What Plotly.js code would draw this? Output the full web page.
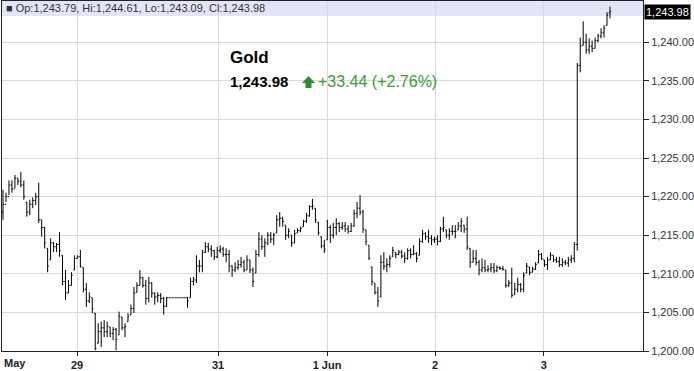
<!DOCTYPE html>
<html>
<head>
<meta charset="utf-8">
<script src="https://cdn.plot.ly/plotly-3.0.1.min.js"></script>
<style>html,body{margin:0;padding:0;background:#fff;}#chart{width:694px;height:371px;}</style>
</head>
<body>
<div id="chart"></div>
<script>
// ---- data ----
var openP = [1218.0,1219.0,1220.0,1221.5,1221.0,1222.4,1222.0,1221.5,1219.3,1218.0,1219.0,1219.5,1220.0,1217.0,1216.0,1213.3,1211.8,1214.0,1213.5,1213.8,
1212.4,1209.0,1207.5,1208.5,1210.5,1212.0,1212.2,1210.8,1208.0,1206.5,1206.9,1204.9,1201.0,1202.5,1203.0,1202.5,1203.1,1202.3,1202.8,1202.1,
1204.4,1203.0,1203.8,1204.7,1205.5,1207.6,1208.5,1209.5,1208.5,1206.8,1208.8,1207.5,1207.0,1207.2,1206.8,1205.8,1206.9,1206.9,1206.9,1206.9,
1206.9,1206.9,1206.9,1206.9,1209.0,1209.2,1211.0,1211.0,1212.8,1213.5,1213.2,1213.0,1212.2,1213.0,1213.2,1212.5,1212.5,1211.0,1210.5,1210.8,
1211.2,1211.5,1210.5,1211.8,1210.5,1210.1,1212.5,1214.5,1213.5,1214.0,1215.0,1214.5,1215.3,1217.0,1217.2,1216.3,1215.0,1215.0,1214.0,1215.3,
1215.6,1216.1,1216.8,1217.5,1218.7,1218.5,1216.7,1214.8,1213.6,1214.4,1216.0,1215.0,1216.0,1216.5,1216.0,1216.2,1215.8,1215.5,1216.2,1217.8,
1218.5,1218.0,1215.7,1213.7,1210.9,1208.8,1207.6,1207.0,1211.5,1211.0,1211.2,1212.2,1212.8,1212.5,1212.8,1212.3,1212.0,1213.0,1212.5,1212.6,
1212.4,1214.2,1215.2,1214.8,1214.6,1214.4,1214.5,1214.2,1215.8,1215.7,1215.0,1215.5,1215.5,1215.7,1216.2,1216.3,1215.8,1213.3,1211.5,1212.0,
1211.5,1210.5,1210.8,1210.5,1210.6,1210.8,1210.4,1210.8,1210.7,1210.5,1208.5,1208.8,1207.3,1208.0,1208.6,1208.0,1210.1,1210.9,1210.2,1210.6,
1211.4,1212.5,1211.8,1211.2,1211.8,1212.4,1211.8,1211.6,1211.2,1211.5,1211.4,1211.8,1212.0,1213.8,1237.0,1239.6,1240.0,1239.0,1239.5,1239.2,
1240.2,1240.8,1241.2,1242.2,1243.79];
var highP = [1220.9,1220.5,1222.1,1222.1,1222.8,1222.4,1223.2,1222.1,1219.3,1219.6,1219.9,1220.5,1221.8,1217.0,1216.1,1213.3,1214.6,1214.1,1214.0,1215.4,
1212.4,1210.5,1209.2,1210.2,1212.4,1212.4,1213.1,1210.8,1208.8,1207.6,1206.9,1204.9,1203.6,1203.8,1204.0,1203.8,1203.1,1203.1,1203.0,1205.1,
1204.4,1203.6,1204.9,1206.0,1208.3,1208.9,1210.5,1209.6,1209.2,1209.6,1208.9,1207.6,1207.6,1207.5,1207.0,1207.0,1206.9,1206.9,1206.9,1206.9,
1206.9,1206.9,1207.0,1209.5,1209.6,1212.4,1211.8,1213.1,1214.1,1214.0,1213.7,1213.1,1213.5,1213.7,1213.5,1213.3,1213.1,1211.1,1211.5,1211.8,
1212.2,1211.8,1212.4,1211.8,1210.8,1213.1,1215.4,1215.0,1214.6,1215.4,1215.4,1215.3,1217.6,1218.0,1217.4,1216.3,1215.9,1215.0,1215.7,1215.9,
1216.1,1217.0,1217.9,1218.9,1219.7,1218.5,1216.7,1214.8,1214.4,1217.0,1216.3,1216.6,1217.2,1216.7,1216.7,1216.7,1216.3,1216.6,1218.3,1219.3,
1220.2,1218.3,1215.7,1213.7,1210.9,1208.8,1208.3,1212.4,1212.8,1212.0,1212.4,1213.5,1212.8,1213.1,1213.1,1212.8,1213.3,1213.3,1213.7,1212.8,
1214.6,1215.7,1215.4,1215.7,1215.0,1214.8,1215.0,1216.1,1217.4,1215.7,1215.9,1216.3,1216.3,1216.7,1217.2,1216.3,1217.4,1213.3,1213.1,1213.1,
1211.8,1212.0,1211.8,1211.1,1211.4,1211.4,1211.1,1211.0,1211.0,1210.5,1209.2,1210.8,1208.8,1209.5,1208.8,1210.2,1211.4,1210.9,1210.9,1211.5,
1213.1,1212.7,1211.8,1212.2,1212.8,1212.4,1212.2,1212.2,1212.0,1211.8,1212.2,1212.4,1214.1,1237.3,1240.6,1242.7,1241.1,1240.5,1240.2,1240.6,
1241.1,1241.8,1242.2,1243.9,1244.61];
var lowP = [1217.0,1219.3,1220.2,1220.5,1221.1,1221.5,1221.2,1219.6,1217.4,1217.6,1218.5,1218.9,1216.6,1214.8,1213.3,1210.2,1211.8,1212.8,1212.8,1212.2,
1208.5,1206.6,1207.5,1208.5,1210.5,1212.0,1210.8,1207.6,1205.7,1206.2,1204.9,1200.1,1201.0,1200.5,1201.8,1201.8,1201.8,1201.4,1200.1,1202.1,
1202.7,1201.8,1203.8,1204.7,1204.9,1207.6,1208.5,1208.2,1206.0,1206.3,1206.9,1206.0,1206.3,1206.2,1204.7,1205.7,1206.9,1206.9,1206.9,1206.9,
1206.9,1206.9,1205.6,1206.9,1208.5,1208.8,1210.2,1210.2,1212.7,1212.8,1212.2,1211.8,1212.0,1212.7,1212.2,1211.5,1210.2,1209.6,1210.2,1210.5,
1210.8,1210.2,1210.5,1210.1,1208.3,1210.1,1212.2,1213.1,1212.2,1213.7,1214.0,1213.7,1215.3,1216.1,1216.1,1214.4,1214.6,1213.5,1214.0,1215.3,
1215.4,1216.1,1216.6,1217.4,1218.3,1216.6,1215.0,1213.3,1212.7,1214.4,1214.0,1214.6,1215.0,1215.4,1215.7,1215.4,1215.2,1215.4,1216.1,1217.2,
1217.6,1215.3,1213.7,1211.8,1208.5,1207.3,1205.7,1207.0,1210.5,1210.2,1210.8,1212.2,1212.0,1212.4,1212.0,1211.4,1211.8,1212.0,1212.4,1211.5,
1212.4,1214.0,1214.4,1214.0,1213.7,1214.0,1213.7,1214.1,1215.4,1214.6,1214.4,1215.0,1214.6,1215.7,1215.4,1215.3,1213.1,1210.8,1211.5,1211.1,
1209.8,1210.2,1210.2,1210.2,1210.2,1210.1,1210.2,1210.5,1210.4,1208.2,1208.3,1206.9,1207.3,1207.6,1207.6,1207.6,1210.1,1209.8,1210.2,1210.5,
1211.4,1211.8,1210.9,1210.5,1211.8,1211.5,1211.4,1210.9,1210.9,1211.1,1210.9,1211.4,1211.5,1213.0,1236.1,1239.6,1238.5,1238.5,1238.7,1239.2,
1240.0,1240.5,1240.6,1242.2,1243.09];
var closeP = [1219.0,1220.0,1221.5,1221.0,1222.4,1222.0,1221.5,1220.0,1218.0,1219.0,1219.5,1220.0,1217.0,1216.0,1214.0,1211.0,1214.0,1213.5,1213.8,1213.0,
1209.0,1207.5,1208.5,1209.8,1212.0,1212.2,1211.0,1208.0,1206.5,1207.0,1205.5,1200.3,1202.5,1203.0,1202.5,1203.2,1202.3,1202.8,1201.5,1204.5,
1203.0,1203.2,1204.5,1205.5,1207.5,1208.5,1209.5,1208.5,1206.8,1208.8,1207.5,1207.0,1207.2,1206.8,1205.8,1206.9,1206.9,1206.9,1206.9,1206.9,
1206.9,1206.9,1206.5,1209.0,1209.2,1211.0,1211.0,1212.8,1213.5,1213.2,1213.0,1212.2,1213.0,1213.2,1212.5,1212.5,1211.0,1210.5,1210.8,1211.2,
1211.5,1210.5,1211.8,1210.5,1209.0,1212.5,1214.5,1213.5,1214.0,1215.0,1214.5,1215.0,1217.0,1217.2,1216.8,1215.0,1215.5,1214.0,1215.2,1215.6,
1215.9,1216.8,1217.5,1218.7,1218.8,1217.0,1215.3,1213.6,1213.2,1216.0,1215.0,1216.0,1216.5,1216.0,1216.2,1215.8,1215.5,1216.2,1217.8,1218.5,
1218.0,1215.8,1214.2,1212.0,1209.0,1207.6,1206.5,1211.5,1211.0,1211.2,1212.0,1213.0,1212.5,1212.8,1212.3,1212.0,1213.0,1212.5,1212.6,1212.0,
1214.2,1215.2,1214.8,1214.6,1214.4,1214.5,1214.2,1215.8,1216.0,1215.0,1215.5,1215.5,1215.5,1216.2,1216.8,1215.8,1213.5,1211.5,1212.0,1211.5,
1210.5,1210.8,1210.5,1210.6,1210.8,1210.4,1210.8,1210.7,1210.6,1208.5,1208.8,1207.2,1208.0,1208.6,1208.0,1209.8,1211.0,1210.2,1210.6,1211.2,
1212.5,1212.0,1211.2,1211.8,1212.4,1211.8,1211.6,1211.2,1211.5,1211.4,1211.8,1212.0,1213.8,1237.0,1239.5,1240.0,1239.0,1239.5,1239.2,1240.2,
1240.8,1241.2,1241.8,1243.5,1243.98];
var dayTickPos = [24.9, 72.3, 108.9, 145.2, 181.8];
var dayTickLabels = ["29", "31", "1 Jun", "2", "3"];
var priceTicks = [1200, 1205, 1210, 1215, 1220, 1225, 1230, 1235, 1240];
var symbolName = "Gold";
var lastPriceText = "1,243.98";
var changeText = "+33.44 (+2.76%)";

// ---- build ----
var xIdx = [];
for (var i = 0; i < closeP.length; i++) xIdx.push(i);
var n = closeP.length - 1;
function fmt(v) { return v.toLocaleString('en-US', {minimumFractionDigits: 2, maximumFractionDigits: 2}); }
var headerText = "■ Op:" + fmt(openP[n]) + ", Hi:" + fmt(highP[n]) + ", Lo:" + fmt(lowP[n]) + ", Cl:" + fmt(closeP[n]);

var FONT = "Liberation Sans, Arial, sans-serif";
var trace = {
  type: 'ohlc', x: xIdx, open: openP, high: highP, low: lowP, close: closeP,
  increasing: {line: {color: '#000', width: 1}},
  decreasing: {line: {color: '#000', width: 1}},
  tickwidth: 0.4, hoverinfo: 'skip', showlegend: false
};
var layout = {
  width: 694, height: 371,
  margin: {l: 2, r: 51, t: 1, b: 20, pad: 0},
  paper_bgcolor: '#fff', plot_bgcolor: '#fff',
  showlegend: false,
  xaxis: {
    range: [-0.34, 215.1], rangeslider: {visible: false},
    tickmode: 'array', tickvals: dayTickPos, ticktext: dayTickLabels,
    showgrid: true, gridcolor: '#d9d9d9', gridwidth: 1,
    showline: true, linecolor: '#222', linewidth: 1, mirror: true,
    ticks: 'outside', ticklen: 4, tickcolor: '#222',
    tickfont: {family: "Liberation Sans Narrow, Arial Narrow, Liberation Sans, sans-serif", size: 11, color: '#222', weight: 'bold'},
    zeroline: false, fixedrange: true
  },
  yaxis: {
    range: [1200, 1245.34], side: 'right',
    tickmode: 'array', tickvals: priceTicks, tickformat: ',.2f',
    showgrid: true, gridcolor: '#d9d9d9', gridwidth: 1,
    showline: true, linecolor: '#222', linewidth: 1, mirror: true,
    ticks: 'outside', ticklen: 5, tickcolor: '#222',
    tickfont: {family: FONT, size: 11, color: '#333'},
    zeroline: false, fixedrange: true
  },
  shapes: [
    {type: 'rect', xref: 'paper', yref: 'paper', x0: 0, x1: 1, y0: 0.957, y1: 1,
     fillcolor: '#e4e4f8', line: {width: 0}, layer: 'below'},
    {type: 'path', xref: 'paper', yref: 'paper', layer: 'above',
     path: 'M 0.4680 0.7657 L 0.4782 0.7857 L 0.4883 0.7657 L 0.4828 0.7657 L 0.4828 0.7514 L 0.4735 0.7514 L 0.4735 0.7657 Z',
     fillcolor: '#2e8b2e', line: {width: 0}}
  ],
  annotations: [
    {xref: 'paper', yref: 'paper', x: 0.003, y: 0.979, xanchor: 'left', yanchor: 'middle',
     text: headerText, showarrow: false, font: {family: FONT, size: 11, color: '#333'}},
    {xref: 'paper', yref: 'paper', x: 0.352, y: 0.8386, xanchor: 'left', yanchor: 'middle',
     text: '<b>' + symbolName + '</b>', showarrow: false, font: {family: FONT, size: 17, color: '#000'}},
    {xref: 'paper', yref: 'paper', x: 0.352, y: 0.77, xanchor: 'left', yanchor: 'middle',
     text: '<b>' + lastPriceText + '</b>', showarrow: false, font: {family: FONT, size: 15, color: '#000'}},
    {xref: 'paper', yref: 'paper', x: 0.4895, y: 0.77, xanchor: 'left', yanchor: 'middle',
     text: changeText, showarrow: false, font: {family: FONT, size: 16, color: '#3a9a3a'}},
    {xref: 'paper', yref: 'paper', x: 0.0, y: 0, xanchor: 'left', yanchor: 'top', yshift: -4,
     text: '<b>May</b>', showarrow: false, font: {family: "Liberation Sans Narrow, Arial Narrow, Liberation Sans, sans-serif", size: 11, color: '#222'}},
    {xref: 'paper', yref: 'y', x: 1, y: closeP[n], xanchor: 'left', yanchor: 'middle', xshift: 1,
     text: fmt(closeP[n]), showarrow: false, bgcolor: '#000', borderpad: 1,
     font: {family: FONT, size: 11, color: '#fff'}}
  ]
};
Plotly.newPlot('chart', [trace], layout, {displayModeBar: false, staticPlot: true});
</script>
</body>
</html>
